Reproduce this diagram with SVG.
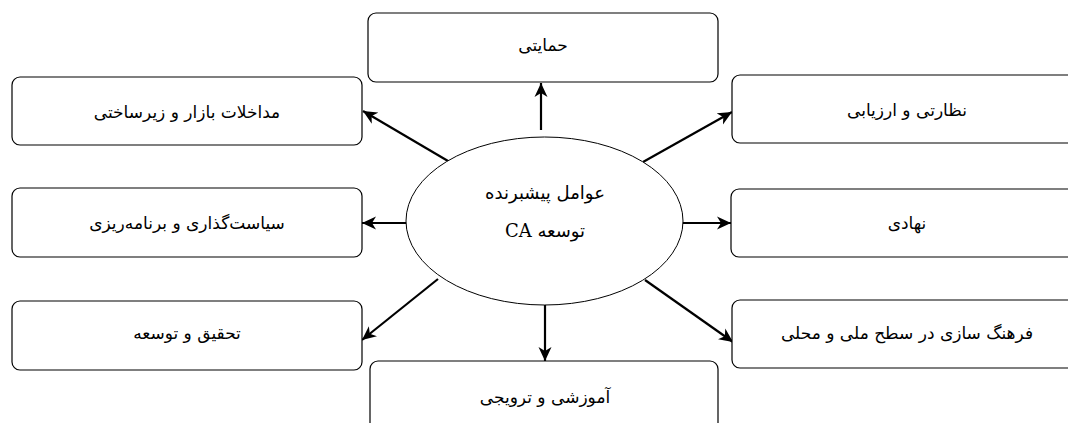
<svg xmlns="http://www.w3.org/2000/svg" width="1068" height="423" viewBox="0 0 1068 423">
<style>
.box{fill:#fff;stroke:#000;stroke-width:1.2}
.t{font-family:"DejaVu Sans","Noto Sans",sans-serif;font-size:17px;fill:#000;text-anchor:middle;dominant-baseline:central;direction:rtl}
.et{font-family:"DejaVu Serif","Liberation Serif","DejaVu Sans",serif;font-size:18px;fill:#000;text-anchor:middle;dominant-baseline:central;direction:rtl}
.c{stroke:#000;stroke-width:2.2;fill:none;marker-end:url(#ah)}
</style>
<defs>
<marker id="ah" markerUnits="userSpaceOnUse" markerWidth="16" markerHeight="14" refX="14" refY="7" orient="auto">
<path d="M0,0.5 L14,7 L0,13.5 L4,7 Z" fill="#000"/>
</marker>
</defs>
<rect width="1068" height="423" fill="#fff"/>
<g id="connectors">
<line class="c" x1="541" y1="130" x2="541" y2="83"/>
<line class="c" x1="448" y1="161" x2="363" y2="111"/>
<line class="c" x1="643" y1="162" x2="732" y2="112"/>
<line class="c" x1="406" y1="223" x2="362" y2="223"/>
<line class="c" x1="683" y1="223" x2="731" y2="223"/>
<line class="c" x1="438" y1="279" x2="362" y2="340"/>
<line class="c" x1="645" y1="280" x2="733" y2="342"/>
<line class="c" x1="545" y1="305" x2="545" y2="361"/>
</g>
<g id="center">
<ellipse cx="544.5" cy="221" rx="138.5" ry="84" fill="#fff" stroke="#000" stroke-width="1"/>
<text class="et" x="545" y="192">عوامل پیشبرنده</text>
<text class="et" x="545" y="230">توسعه CA</text>
</g>
<g id="n-support"><rect class="box" x="368" y="13" width="350" height="69" rx="8"/><text class="t" x="543" y="45">حمایتی</text></g>
<g id="n-market"><rect class="box" x="12" y="77" width="350" height="68" rx="8"/><text class="t" x="187" y="112">مداخلات بازار و زیرساختی</text></g>
<g id="n-policy"><rect class="box" x="12" y="188" width="350" height="69" rx="8"/><text class="t" x="187" y="223">سیاست‌گذاری و برنامه‌ریزی</text></g>
<g id="n-research"><rect class="box" x="12" y="301" width="350" height="69" rx="8"/><text class="t" x="187" y="333">تحقیق و توسعه</text></g>
<g id="n-monitor"><rect class="box" x="732" y="75" width="350" height="68" rx="8"/><text class="t" x="907" y="110">نظارتی و ارزیابی</text></g>
<g id="n-inst"><rect class="box" x="731" y="189" width="350" height="68" rx="8"/><text class="t" x="907" y="223">نهادی</text></g>
<g id="n-culture"><rect class="box" x="732" y="300" width="350" height="68" rx="8"/><text class="t" x="907" y="333">فرهنگ سازی در سطح ملی و محلی</text></g>
<g id="n-edu"><rect class="box" x="370" y="361" width="348" height="80" rx="8"/><text class="t" x="545" y="397">آموزشی و ترویجی</text></g>
</svg>
